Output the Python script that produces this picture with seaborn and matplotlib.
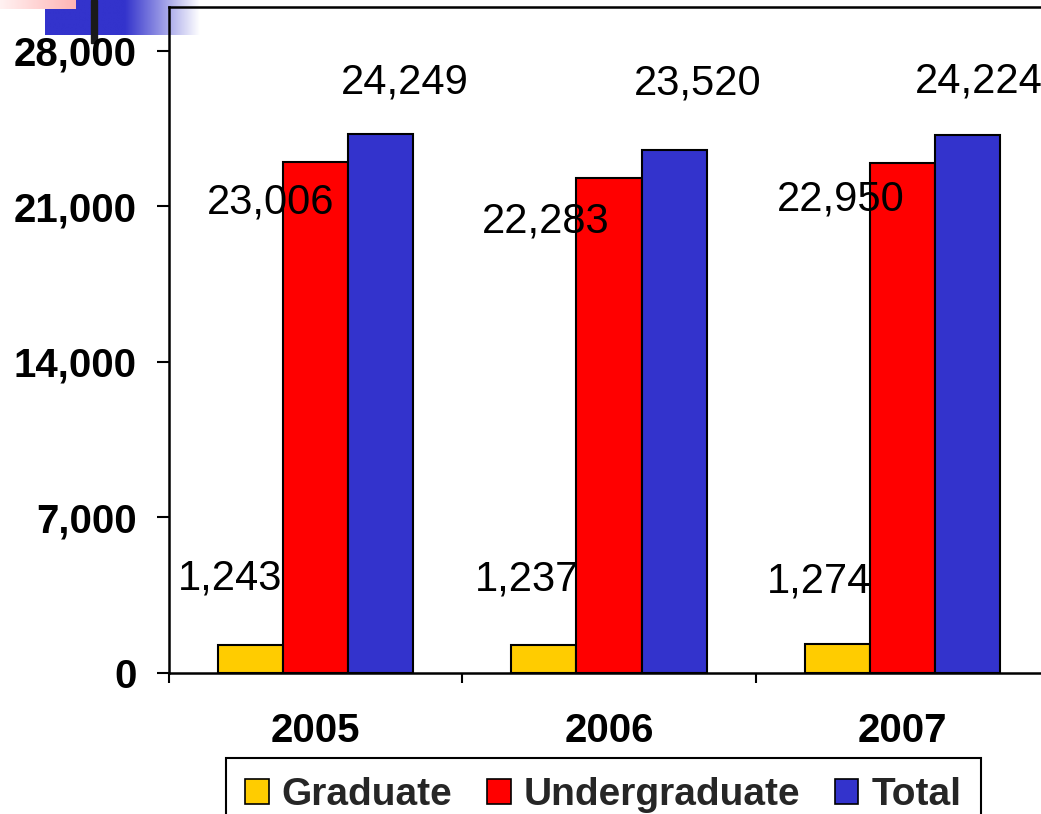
import numpy as np
import pandas as pd
import matplotlib
matplotlib.use("Agg")
import matplotlib.pyplot as plt
from matplotlib.patches import Patch
from matplotlib.colors import to_rgb
import seaborn as sns

# Enrollment by level and year
years = ["2005", "2006", "2007"]
levels = ["Graduate", "Undergraduate", "Total"]
graduate = [1243, 1237, 1274]
undergraduate = [23006, 22283, 22950]
total = [24249, 23520, 24224]
y_ticks = [0, 7000, 14000, 21000, 28000]

colors = ["#FFCC00", "#FF0000", "#3333CC"]

# Value-label nudges in pixels: (dx from bar centre, baseline height above bar top)
label_nudge = {
    "Graduate": [(-20, 55), (-17, 55), (-18, 52)],
    "Undergraduate": [(-45, -52), (-63, -55), (-62, -47)],
    "Total": [(24, 41), (24, 56), (11, 42)],
}

df = pd.DataFrame({
    "Year": years * 3,
    "Level": np.repeat(levels, len(years)),
    "Count": graduate + undergraduate + total,
})

sns.set_theme(style="white")
plt.rcParams["font.family"] = ["Liberation Sans", "DejaVu Sans"]

W, H = 1041, 814
PT = 72 / 100  # points per pixel at dpi 100
fig = plt.figure(figsize=(W / 100, H / 100), dpi=100)

# Slide ornament in the top-left corner
deco = fig.add_axes([0, 0, 1, 1], zorder=0)
n = 256
xs = np.linspace(45, 200, n)
t = np.clip((xs - 125) / (200 - 125), 0, 1)
blue_rgb = np.array(to_rgb("#3333CC"))
blue_img = (1 - t)[:, None] * blue_rgb + t[:, None] * np.ones(3)
deco.imshow(blue_img[None], extent=(45, 200, 35, 0), aspect="auto",
            interpolation="bilinear")
xp = np.linspace(0, 1, n)
pink_l = np.array(to_rgb("#FFF2F2"))
pink_r = np.array(to_rgb("#FFB4B4"))
pink_img = (1 - xp)[:, None] * pink_l + xp[:, None] * pink_r
deco.imshow(pink_img[None], extent=(0, 76, 9, 0), aspect="auto",
            interpolation="bilinear")
deco.add_patch(plt.Rectangle((91, 0), 6, 43, color="#1a1a1a", zorder=3))
deco.set_xlim(0, W)
deco.set_ylim(H, 0)
deco.axis("off")

# Main chart
ax = fig.add_axes([169 / W, (H - 672.5) / H, 880 / W, 666 / H], zorder=1)
ax.patch.set_alpha(0)

sns.barplot(data=df, x="Year", y="Count", hue="Level", order=years,
            hue_order=levels, palette=colors, saturation=1, width=0.666,
            gap=0, edgecolor="black", linewidth=1.5, legend=False, ax=ax)

ax.set_xlim(-0.5, 2.5)
ax.set_ylim(0, 30000)
ax.set_yticks(y_ticks)
ax.set_yticklabels([f"{v:,}" for v in y_ticks])
ax.set_xlabel("")
ax.set_ylabel("")

for s in ax.spines.values():
    s.set_visible(True)
    s.set_color("black")
    s.set_linewidth(1.8)

ax.tick_params(axis="y", which="major", left=True, direction="out",
               length=12 * PT, width=1.5, color="black", pad=20 * PT,
               labelsize=29, labelcolor="black")
ax.set_xticks([-0.5, 0.5, 1.5, 2.5], minor=True)
ax.tick_params(axis="x", which="major", length=0, pad=39 * PT,
               labelsize=29, labelcolor="black")
ax.tick_params(axis="x", which="minor", bottom=True, direction="out",
               length=10 * PT, width=1.5, color="black")
for lbl in ax.get_xticklabels() + ax.get_yticklabels():
    lbl.set_fontweight("bold")

# Value labels drawn from each bar's own height
for container, level in zip(ax.containers, levels):
    for i, bar in enumerate(container):
        x = bar.get_x() + bar.get_width() / 2
        h = bar.get_height()
        dx, dy = label_nudge[level][i]
        ax.annotate(f"{h:,.0f}", (x, h), xytext=(dx * PT, dy * PT),
                    textcoords="offset points", ha="center", va="baseline",
                    fontsize=30, color="black", zorder=5,
                    annotation_clip=False)

handles = [Patch(facecolor=c, edgecolor="black", linewidth=1.2) for c in colors]
leg = fig.legend(handles, levels, loc="upper left",
                 bbox_to_anchor=(226 / W, (H - 758) / H), ncol=3,
                 frameon=True, fancybox=False, edgecolor="black",
                 framealpha=1, borderaxespad=0, borderpad=0.5,
                 handlelength=0.6, handleheight=0.6, handletextpad=0.33,
                 columnspacing=0.9, prop={"weight": "bold", "size": 28})
leg.get_frame().set_linewidth(1.5)

fig.savefig("out.png", dpi=100)
